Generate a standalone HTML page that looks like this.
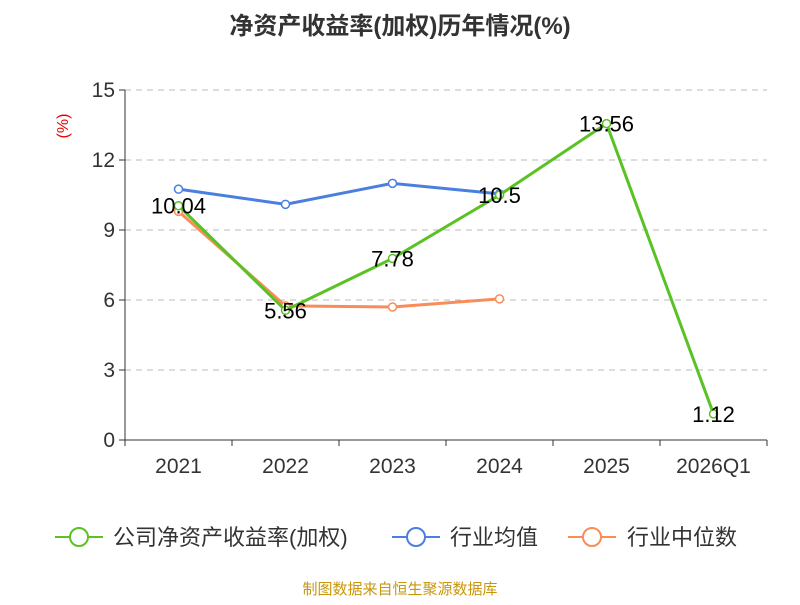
<!DOCTYPE html>
<html><head><meta charset="utf-8"><style>
body{margin:0;background:#fff;}
svg text{font-family:"Liberation Sans","Noto Sans CJK SC",sans-serif;}
</style></head><body>
<svg id="c" width="800" height="600" xmlns="http://www.w3.org/2000/svg">
<text x="400" y="34" text-anchor="middle" font-size="24" font-weight="bold" fill="#333">净资产收益率(加权)历年情况(%)</text>
<text x="68" y="126" text-anchor="middle" font-size="16" fill="#e00" transform="rotate(-90 68 126)">(%)</text>
<g id="grid"></g><g id="axes"></g><g id="series"></g>
<g id="legend">
<line x1="55" y1="537" x2="103" y2="537" stroke="#5ac224" stroke-width="2"/><circle cx="79" cy="537" r="9" fill="#fff" stroke="#5ac224" stroke-width="2"/>
<text x="113" y="545" font-size="22" fill="#333">公司净资产收益率(加权)</text>
<line x1="392" y1="537" x2="440" y2="537" stroke="#4a7fe0" stroke-width="2"/><circle cx="416" cy="537" r="9" fill="#fff" stroke="#4a7fe0" stroke-width="2"/>
<text x="450" y="545" font-size="22" fill="#333">行业均值</text>
<line x1="568" y1="537" x2="616" y2="537" stroke="#f98d5a" stroke-width="2"/><circle cx="592" cy="537" r="9" fill="#fff" stroke="#f98d5a" stroke-width="2"/>
<text x="627" y="545" font-size="22" fill="#333">行业中位数</text>
</g>
<text x="400" y="594" text-anchor="middle" font-size="15" fill="#c8960c">制图数据来自恒生聚源数据库</text>
</svg>
<script>
const categories=["2021","2022","2023","2024","2025","2026Q1"];
const companyValues=[10.04,5.56,7.78,10.5,13.56,1.12];
const industryAvg=[10.75,10.1,11.0,10.55];
const industryMedian=[9.8,5.75,5.7,6.05];
const yTicks=[0,3,6,9,12,15];
const NS="http://www.w3.org/2000/svg";
const x0=125,x1=767,yb=440,yt=90;
const bw=(x1-x0)/categories.length;
const X=i=>x0+bw*(i+0.5);
const Y=v=>yb-(v/15)*(yb-yt);
function mk(t,a,p){const e=document.createElementNS(NS,t);for(const k in a)e.setAttribute(k,a[k]);p.appendChild(e);return e;}
const grid=document.getElementById('grid'),axes=document.getElementById('axes'),ser=document.getElementById('series');
yTicks.forEach(v=>{
  if(v>0){const l=mk('line',{x1:x0,x2:x1,y1:Y(v),y2:Y(v),stroke:'#bbb','stroke-dasharray':'6,5'},grid);
  
  }
  mk('line',{x1:x0-6,x2:x0,y1:Y(v),y2:Y(v),stroke:'#333'},axes);
  const t=mk('text',{x:x0-10,y:Y(v)+7,'text-anchor':'end','font-size':21,fill:'#333'},axes);t.textContent=v;
  
  
});
mk('line',{x1:x0,x2:x0,y1:yt,y2:yb,stroke:'#333'},axes);
mk('line',{x1:x0,x2:x1,y1:yb,y2:yb,stroke:'#333'},axes);
for(let i=0;i<=categories.length;i++)mk('line',{x1:x0+bw*i,x2:x0+bw*i,y1:yb,y2:yb+6,stroke:'#333'},axes);
categories.forEach((c,i)=>{const t=mk('text',{x:X(i),y:473,'text-anchor':'middle','font-size':21,fill:'#333'},axes);t.textContent=c;
  
  });
function line(vals,color,name,labels){
  const g=mk('g',{},ser);
  
  
  mk('polyline',{points:vals.map((v,i)=>X(i)+','+Y(v)).join(' '),fill:'none',stroke:color,'stroke-width':3},g);
  vals.forEach((v,i)=>{const c=mk('circle',{cx:X(i),cy:Y(v),r:4,fill:'#fff',stroke:color,'stroke-width':1.5},g);
    
    
    if(labels){const t=mk('text',{x:X(i),y:Y(v)+8,'text-anchor':'middle','font-size':22,fill:'#000'},g);t.textContent=v;
      
      }
  });
}
line(industryAvg,'#4a7fe0','industry-average-line',false);
line(industryMedian,'#f98d5a','industry-median-line',false);
line(companyValues,'#5ac224','company-roe-line',true);
</script>
</body></html>
